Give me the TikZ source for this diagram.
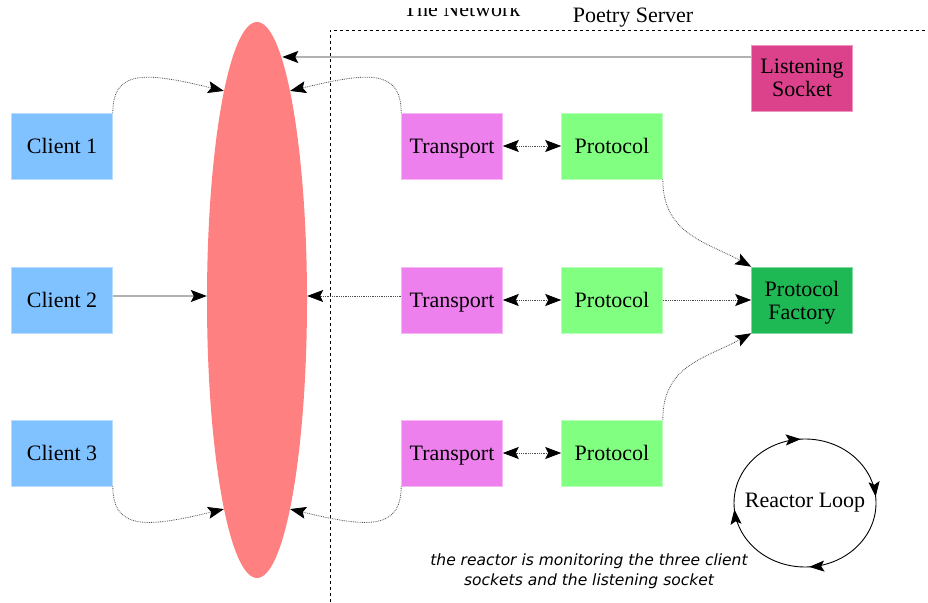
\documentclass[tikz,border=0pt]{standalone}
\usepackage{fontspec}
\setmainfont{Liberation Serif}
\newfontfamily\capfont{DejaVu Sans}
\usetikzlibrary{arrows.meta,shapes.geometric,decorations.markings}
\definecolor{clientc}{RGB}{128,194,255}
\definecolor{transc}{RGB}{238,128,238}
\definecolor{protoc}{RGB}{128,255,128}
\definecolor{factc}{RGB}{30,185,85}
\definecolor{listc}{RGB}{220,65,140}
\definecolor{netc}{RGB}{255,128,128}
\begin{document}
\begin{tikzpicture}[x=1pt,y=1pt,
  font=\fontsize{22}{26}\selectfont,
  box/.style={minimum width=101pt, minimum height=66pt, inner sep=0pt, align=center, text depth=0pt, fill=#1, draw=#1!55!white, line width=0.6pt},
  tipp/.style={-{Stealth[length=16pt,width=12pt,inset=3pt,color=black]}},
  dtipp/.style={{Stealth[length=16pt,width=12pt,inset=3pt,color=black]}-{Stealth[length=16pt,width=12pt,inset=3pt,color=black]}},
  link/.style={densely dotted, draw=black!70, line width=0.8pt},
  grayline/.style={draw=black!30, line width=1.5pt},
  border/.style={dash pattern=on 3pt off 3pt, line width=0.8pt}]
\useasboundingbox (0,0) rectangle (928,602);
% network ellipse
\node[ellipse, fill=netc, minimum width=100pt, minimum height=556pt, inner sep=0pt] (net) at (257,302) {};
% server border
\draw[border] (330,0) -- (330,572) -- (928,572);
\node[anchor=base] (netlabel) at (462,585) {The Network};
\fill[white] (300,594) rectangle (620,602);
\node (srvlabel) at (633,584) {Poetry Server};
% boxes
\node[box=clientc] (c1) at (62,456) {Client 1};
\node[box=clientc] (c2) at (62,302) {Client 2};
\node[box=clientc] (c3) at (62,149) {Client 3};
\node[box=transc] (t1) at (452,456) {Transport};
\node[box=transc] (t2) at (452,302) {Transport};
\node[box=transc] (t3) at (452,149) {Transport};
\node[box=protoc] (p1) at (612,456) {Protocol};
\node[box=protoc] (p2) at (612,302) {Protocol};
\node[box=protoc] (p3) at (612,149) {Protocol};
\node[box=factc] (f) at (802,302) {Protocol\\[-3pt]Factory};
\node[box=listc] (ls) at (802,524) {Listening\\[-3pt]Socket};
% listening socket line
\coordinate (lsout) at ([yshift=21pt]ls.west);
\draw[grayline, tipp] (lsout) -- (lsout -| net.84);
% client connectors
\draw[link, tipp] (c1.north east) .. controls +(0,45) and +(-75,18) .. (net.99);
\draw[grayline, line width=1.2pt, tipp] ([yshift=4pt]c2.east) -- ([yshift=4pt]net.west);
\draw[link, tipp] (c3.south east) .. controls +(0,-45) and +(-75,-18) .. (net.261);
% transport connectors
\draw[link, tipp] (t1.north west) .. controls +(0,45) and +(75,18) .. (net.81);
\draw[link, tipp] ([yshift=4pt]t2.west) -- ([yshift=4pt]net.east);
\draw[link, tipp] (t3.south west) .. controls +(0,-45) and +(75,-18) .. (net.279);
% transport <-> protocol
\draw[link, dtipp] (t1) -- (p1);
\draw[link, dtipp] (t2) -- (p2);
\draw[link, dtipp] (t3) -- (p3);
% protocol -> factory
\draw[link, tipp] (p1.south east) .. controls +(0,-55) and +(-45,25) .. (f.north west);
\draw[link, tipp] (p2.east) -- (f.west);
\draw[link, tipp] (p3.north east) .. controls +(0,55) and +(-45,-25) .. (f.south west);
% reactor loop
\node (rl) at (805,99) {Reactor Loop};
\draw[line width=0.9pt, postaction={decorate}, decoration={markings,
   mark=at position 0.24 with {\arrow{Stealth[length=15pt,width=11pt,inset=3pt]}},
   mark=at position 0.485 with {\arrow{Stealth[length=15pt,width=11pt,inset=3pt]}},
   mark=at position 0.74 with {\arrow{Stealth[length=15pt,width=11pt,inset=3pt]}},
   mark=at position 0.985 with {\arrow{Stealth[length=15pt,width=11pt,inset=3pt]}}}]
   (rl.center) ++(-71,0) arc[start angle=180, end angle=-180, x radius=71, y radius=64];
% caption
\node[font=\capfont\itshape\fontsize{15.5}{20}\selectfont, align=center] (cap) at (589,31) {the reactor is monitoring the three client\\sockets and the listening socket};
\end{tikzpicture}
\end{document}
